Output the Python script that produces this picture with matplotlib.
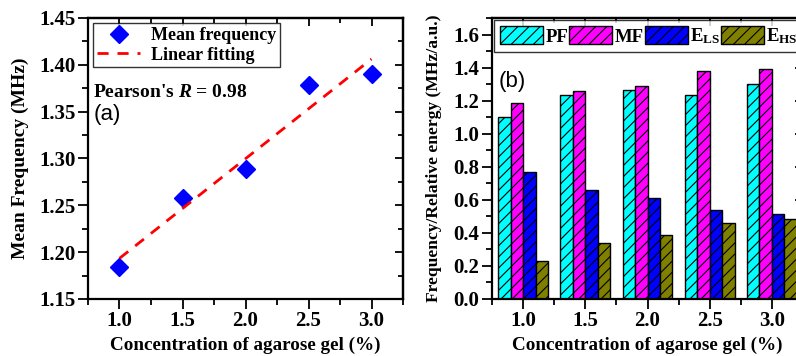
import numpy as np
import matplotlib.pyplot as plt
from matplotlib.ticker import MultipleLocator

# data
conc = [1.0, 1.5, 2.0, 2.5, 3.0]
mean_freq = [1.184, 1.258, 1.289, 1.378, 1.390]
pf = [1.10, 1.232, 1.267, 1.232, 1.301]
mf = [1.184, 1.259, 1.291, 1.382, 1.390]
e_ls = [0.766, 0.657, 0.610, 0.537, 0.513]
e_hs = [0.232, 0.341, 0.388, 0.462, 0.485]

plt.rcParams['font.family'] = ['Liberation Serif', 'DejaVu Serif']
plt.rcParams['font.weight'] = 'bold'
plt.rcParams['axes.labelweight'] = 'bold'
plt.rcParams['mathtext.fontset'] = 'custom'
plt.rcParams['mathtext.rm'] = 'Liberation Serif:bold'
plt.rcParams['mathtext.it'] = 'Liberation Serif:bold:italic'
plt.rcParams['mathtext.bf'] = 'Liberation Serif:bold'
plt.rcParams['hatch.linewidth'] = 0.8

W, H = 796, 356
fig = plt.figure(figsize=(W / 100, H / 100), dpi=100)
ax1 = fig.add_axes([88 / W, (H - 299) / H, (403 - 88) / W, (299 - 18) / H])
ax2 = fig.add_axes([492 / W, (H - 299) / H, (803 - 492) / W, (299 - 18) / H])

# panel (a)
ax1.plot(conc, mean_freq, 'D', color='#0000ff', markersize=9.5, label='Mean frequency')
k, b = np.polyfit(conc, mean_freq, 1)
xf = np.array([conc[0], conc[-1]])
ax1.plot(xf, k * xf + b, '--', color='#ff0000', lw=2, dashes=(4, 3.2), label='Linear fitting')
ax1.set_xlim(0.75, 3.25)
ax1.set_ylim(1.15, 1.45)
ax1.xaxis.set_minor_locator(MultipleLocator(0.25))
ax1.yaxis.set_major_locator(MultipleLocator(0.05))
ax1.yaxis.set_minor_locator(MultipleLocator(0.025))
ax1.set_xticks(conc)
ax1.set_xlabel('Concentration of agarose gel (%)', fontsize=13.8, labelpad=4)
ax1.set_ylabel('Mean Frequency (MHz)', fontsize=14, labelpad=7)
leg1 = ax1.legend(loc='upper left', fontsize=13, frameon=True, fancybox=False,
                  edgecolor='black', borderaxespad=0.3, handlelength=2.4,
                  labelspacing=0.15, borderpad=0.2, handletextpad=0.6)
leg1.get_frame().set_linewidth(1.0)
ax1.text(0.017, 0.735, "Pearson's $\\mathit{R}$ = 0.98", transform=ax1.transAxes,
         fontsize=14, fontweight='bold', va='center')
ax1.text(0.017, 0.655, '(a)', transform=ax1.transAxes, fontsize=16,
         family='Liberation Sans', fontweight='normal', va='center')

# panel (b)
x = np.array(conc)
bw = 0.1
series = [(pf, '#00ffff', 'PF'), (mf, '#ff00ff', 'MF'),
          (e_ls, '#0000ff', 'E$_{\\mathrm{LS}}$'), (e_hs, '#808000', 'E$_{\\mathrm{HS}}$')]
for i, (vals, col, lab) in enumerate(series):
    ax2.bar(x + (i - 1.5) * bw, vals, bw, color=col, edgecolor='black',
            hatch='///', linewidth=1.0, label=lab)
ax2.set_xlim(0.75, 3.25)
ax2.set_ylim(0, 1.7)
ax2.set_xticks(conc)
ax2.xaxis.set_minor_locator(MultipleLocator(0.25))
ax2.yaxis.set_major_locator(MultipleLocator(0.2))
ax2.yaxis.set_minor_locator(MultipleLocator(0.1))
ax2.set_xlabel('Concentration of agarose gel (%)', fontsize=13.8, labelpad=4)
ax2.set_ylabel('Frequency/Relative energy (MHz/a.u.)', fontsize=12.6, labelpad=8)
leg2 = ax2.legend(loc='upper left', ncol=4, fontsize=13.5, frameon=True, fancybox=False,
                  edgecolor='black', borderaxespad=0.12, handlelength=2.3,
                  handleheight=1.15, handletextpad=0.12, columnspacing=0.05,
                  borderpad=0.3)
leg2.get_frame().set_linewidth(1.0)
ax2.text(0.02, 0.775, '(b)', transform=ax2.transAxes, fontsize=16,
         family='Liberation Sans', fontweight='normal', va='center')

for ax in (ax1, ax2):
    for s in ax.spines.values():
        s.set_linewidth(1.6)
    ax.tick_params(which='both', width=1.3, labelsize=15, pad=2)
    ax.tick_params(which='major', length=7)
    ax.tick_params(which='minor', length=4)
    ax.tick_params(which='both', direction='out', top=False, right=False)
    # inward ticks on top and right
    tw = ax.secondary_xaxis('top')
    tw.set_xticks(ax.get_xticks())
    tw.xaxis.set_minor_locator(MultipleLocator(0.25))
    tw.tick_params(which='both', direction='in', labeltop=False, width=1.3)
    tw.tick_params(which='major', length=6)
    tw.tick_params(which='minor', length=3.5)
    tw.spines['top'].set_linewidth(1.6)
    tr = ax.secondary_yaxis('right')
    tr.yaxis.set_major_locator(ax.yaxis.get_major_locator())
    tr.yaxis.set_minor_locator(ax.yaxis.get_minor_locator())
    tr.tick_params(which='both', direction='in', labelright=False, width=1.3)
    tr.tick_params(which='major', length=6)
    tr.tick_params(which='minor', length=3.5)
    tr.spines['right'].set_linewidth(1.6)

fig.savefig('out.png', dpi=100)
